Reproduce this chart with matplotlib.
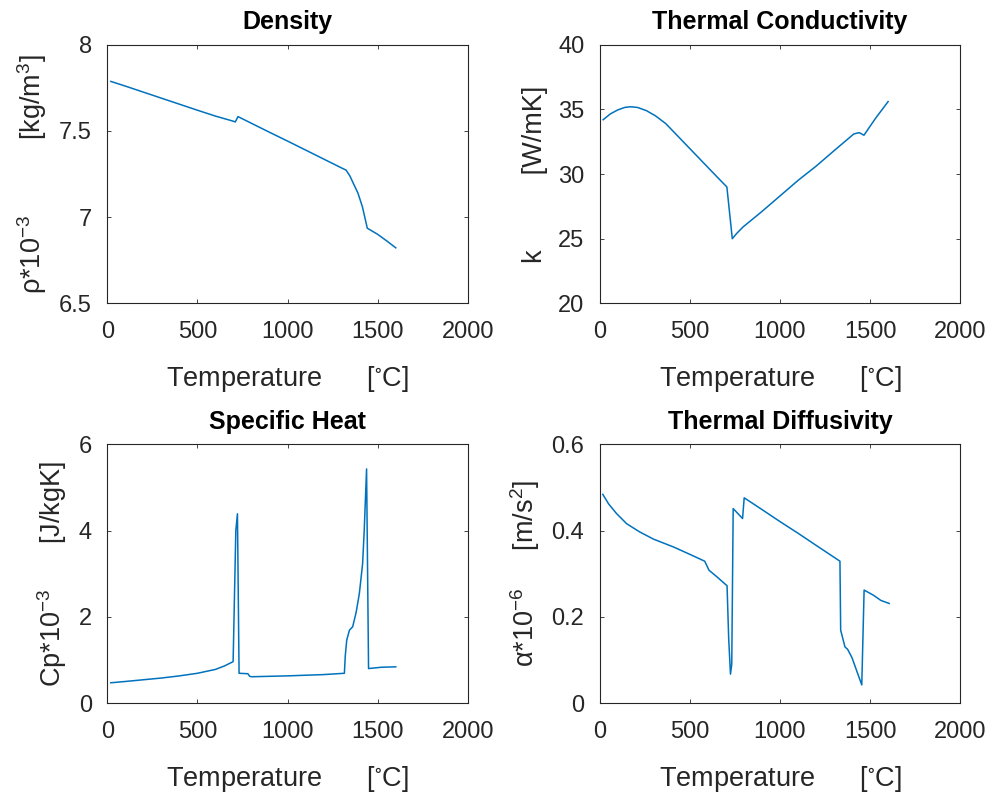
import matplotlib
matplotlib.use("Agg")
import matplotlib.pyplot as plt

# Density  (rho * 1e-3, kg/m^3)
dens_T = [20, 100, 200, 300, 400, 500, 600, 700, 710, 725, 800, 900, 1000,
          1100, 1200, 1300, 1324, 1345, 1365, 1390, 1415, 1442, 1500, 1550, 1600]
dens_v = [7.787, 7.760, 7.725, 7.690, 7.655, 7.620, 7.586, 7.556, 7.552, 7.583,
          7.544, 7.492, 7.441, 7.389, 7.337, 7.285, 7.273, 7.240, 7.195, 7.140,
          7.060, 6.936, 6.900, 6.862, 6.822]

# Thermal conductivity (W/mK)
cond_T = [20, 60, 100, 140, 172, 210, 260, 310, 367, 450, 550, 650, 706, 736,
          760, 795, 900, 1000, 1100, 1200, 1300, 1410, 1440, 1466, 1530, 1600]
cond_v = [34.2, 34.65, 34.95, 35.15, 35.2, 35.15, 34.9, 34.5, 33.9, 32.7,
          31.25, 29.8, 29.0, 25.0, 25.4, 25.9, 27.1, 28.3, 29.5, 30.6, 31.8,
          33.1, 33.2, 33.0, 34.3, 35.6]

# Specific heat (Cp * 1e-3, J/kgK)
cp_T = [20, 100, 200, 300, 400, 500, 600, 650, 698, 713, 722, 731, 780, 790,
        800, 1000, 1200, 1315, 1320, 1328, 1343, 1361, 1380, 1398, 1416, 1425,
        1438, 1449, 1520, 1600]
cp_v = [0.47, 0.50, 0.54, 0.58, 0.63, 0.69, 0.78, 0.86, 0.96, 4.0, 4.39, 0.69,
        0.68, 0.62, 0.61, 0.63, 0.66, 0.69, 1.10, 1.46, 1.69, 1.77, 2.10, 2.54,
        3.23, 4.0, 5.43, 0.80, 0.83, 0.84]

# Thermal diffusivity (alpha * 1e6, m/s^2)
diff_T = [18, 50, 93, 150, 222, 300, 410, 500, 583, 607, 650, 707, 716, 726,
          733, 741, 793, 802, 900, 1000, 1100, 1200, 1333, 1337, 1361, 1375,
          1400, 1454, 1467, 1519, 1560, 1606]
diff_v = [0.484, 0.462, 0.440, 0.416, 0.397, 0.380, 0.362, 0.345, 0.329, 0.308,
          0.293, 0.272, 0.150, 0.067, 0.090, 0.451, 0.428, 0.476, 0.449, 0.421,
          0.394, 0.366, 0.329, 0.169, 0.130, 0.125, 0.105, 0.042, 0.262, 0.250,
          0.238, 0.231]

titles = ["Density", "Thermal Conductivity", "Specific Heat", "Thermal Diffusivity"]
ylabels = [r"$\rho$*10$^{-3}$          [kg/m$^3$]",
           "k          [W/mK]",
           r"Cp*10$^{-3}$      [J/kgK]",
           r"$\alpha$*10$^{-6}$     [m/s$^2$]"]
ylims = [(6.5, 8), (20, 40), (0, 6), (0, 0.6)]
yticks = [[6.5, 7, 7.5, 8], [20, 25, 30, 35, 40], [0, 2, 4, 6], [0, 0.2, 0.4, 0.6]]
yticklabels = [["6.5", "7", "7.5", "8"], ["20", "25", "30", "35", "40"],
               ["0", "2", "4", "6"], ["0", "0.2", "0.4", "0.6"]]
xticks = [0, 500, 1000, 1500, 2000]

plt.rcParams["font.family"] = ["Liberation Sans", "DejaVu Sans"]
plt.rcParams["mathtext.fontset"] = "custom"
plt.rcParams["mathtext.rm"] = "Liberation Sans"
plt.rcParams["mathtext.it"] = "Liberation Sans:italic"
plt.rcParams["mathtext.default"] = "regular"

fig, axs = plt.subplots(2, 2, figsize=(9.93, 7.98), dpi=100)
fig.subplots_adjust(left=0.108, right=0.967, top=0.944, bottom=0.119,
                    wspace=0.365, hspace=0.545)

series = [(dens_T, dens_v), (cond_T, cond_v), (cp_T, cp_v), (diff_T, diff_v)]
line_color = "#0072BD"
axis_color = "#262626"

for i, ax in enumerate(axs.flat):
    x, y = series[i]
    ax.plot(x, y, color=line_color, lw=1.1)
    ax.set_xlim(0, 2000)
    ax.set_ylim(*ylims[i])
    ax.set_xticks(xticks)
    ax.set_xticklabels([str(t) for t in xticks])
    ax.set_yticks(yticks[i])
    ax.set_yticklabels(yticklabels[i])
    ax.tick_params(direction="in", length=3, width=0.6, colors=axis_color,
                   labelsize=17, top=True, right=True)
    ax.tick_params(axis="x", pad=13)
    ax.tick_params(axis="y", pad=11)
    for sp in ax.spines.values():
        sp.set_color(axis_color)
        sp.set_linewidth(0.8)
    ax.set_title(titles[i], fontsize=18, fontweight="bold", pad=11)
    ax.set_xlabel(r"Temperature      [$^{\circ}$C]", fontsize=19.5,
                  color=axis_color, labelpad=15)
    ax.set_ylabel(ylabels[i], fontsize=19.5, color=axis_color, labelpad=7)

fig.savefig("out.png", dpi=100, facecolor="white")
